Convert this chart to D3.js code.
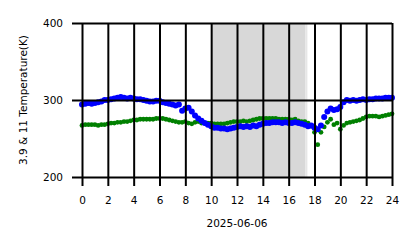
<!DOCTYPE html>
<html>
<head>
<meta charset="utf-8">
<script src="https://cdn.jsdelivr.net/npm/d3@7"></script>
<style>
  body { margin: 0; background: #fff; }
  text { font-family: "DejaVu Sans", sans-serif; fill: #000; }
</style>
</head>
<body>
<script>
// sample every 15 minutes, hours 0..24
var hours = d3.range(0, 24.01, 0.25);

// 3.9 um brightness temperature (K)
var tb39 = [294, 295, 296, 295, 296, 297, 298, 300, 300, 301, 302, 303, 304, 303, 302, 303,
            302, 301, 301, 300, 299, 298, 298, 299, 299, 297, 296, 295, 294, 293, 294, 286,
            289, 290, 285, 280, 276, 273, 270, 268, 266, 264, 264, 263, 263, 262, 263, 264,
            265, 266, 265, 266, 265, 267, 266, 268, 269, 270, 270, 271, 271, 271, 270, 271,
            270, 270, 271, 270, 269, 268, 266, 267, 264, 262, 267, 278, 285, 289, 287, 288,
            291, 297, 300, 299, 300, 299, 300, 301, 300, 301, 301, 302, 302, 302, 303, 303, 303];

// 11 um brightness temperature (K)
var tb11 = [267, 268, 268, 268, 268, 267, 268, 268, 269, 270, 270, 271, 271, 272, 272, 273,
            274, 274, 275, 275, 275, 275, 275, 276, 276, 276, 275, 274, 273, 272, 271, 271,
            272, 270, 269, 271, 272, 270, 270, 270, 270, 269, 269, 269, 269, 270, 271, 272,
            272, 272, 273, 272, 273, 274, 275, 276, 276, 276, 276, 276, 276, 275, 275, 275,
            275, 274, 275, 273, 272, 272, 270, 266, 258, 242, 258, 265, 271, 275, 268, 270,
            262, 267, 270, 271, 272, 273, 274, 276, 278, 279, 279, 279, 278, 279, 280, 281, 282];

var xTicks = d3.range(0, 25, 2);
var yTicks = [200, 300, 400];
var shade = [10, 17.3];
var dateLabel = "2025-06-06";

var width = 418, height = 248;
var x = d3.scaleLinear().domain([0, 24]).range([82, 392]);
var y = d3.scaleLinear().domain([200, 400]).range([177, 23]);

var svg = d3.select("body").append("svg")
    .attr("width", width)
    .attr("height", height);

// night / shaded span
svg.append("rect")
    .attr("x", x(shade[0]))
    .attr("y", y(400))
    .attr("width", x(shade[1]) - x(shade[0]))
    .attr("height", y(200) - y(400))
    .style("fill", "#d8d8d8");
svg.append("rect")
    .attr("x", x(shade[1]))
    .attr("y", y(400))
    .attr("width", x(17.45) - x(shade[1]))
    .attr("height", y(200) - y(400))
    .style("fill", "#e6e6e6");

// points
svg.append("g").selectAll("circle")
    .data(hours)
    .enter().append("circle")
    .attr("cx", function (d) { return x(d); })
    .attr("cy", function (d, i) { return y(tb11[i]); })
    .attr("r", 2.4)
    .style("fill", "#008000");

svg.append("g").selectAll("circle")
    .data(hours)
    .enter().append("circle")
    .attr("cx", function (d) { return x(d); })
    .attr("cy", function (d, i) { return y(tb39[i]); })
    .attr("r", 3)
    .style("fill", "#0000ff");

// axes + grid
var xAxis = d3.axisBottom(x)
    .tickValues(xTicks)
    .tickSize(-(y(200) - y(400)) - 9)
    .tickPadding(11)
    .tickFormat(d3.format("d"));

var gx = svg.append("g")
    .attr("transform", "translate(0," + (y(200) + 9) + ")")
    .call(xAxis);

var yAxis = d3.axisLeft(y)
    .tickValues(yTicks)
    .tickSize(-(x(24) - x(0)) - 10)
    .tickPadding(9);

var gy = svg.append("g")
    .attr("transform", "translate(" + (x(0) - 10) + ",0)")
    .call(yAxis);

[gx, gy].forEach(function (g) {
    g.select(".domain").remove();
    g.selectAll(".tick line").style("stroke", "#000").style("stroke-width", 2);
    g.selectAll(".tick text").style("font-size", "10.5px");
});
gx.selectAll(".tick line").attr("y2", -(y(200) - y(400)) - 9);

svg.append("text")
    .attr("x", (x(0) + x(24)) / 2)
    .attr("y", 227)
    .attr("text-anchor", "middle")
    .style("font-size", "10.5px")
    .text(dateLabel);

svg.append("text")
    .attr("transform", "translate(27," + y(300) + ") rotate(-90)")
    .attr("text-anchor", "middle")
    .style("font-size", "10.5px")
    .text("3.9 & 11 Temperature(K)");
</script>
</body>
</html>
